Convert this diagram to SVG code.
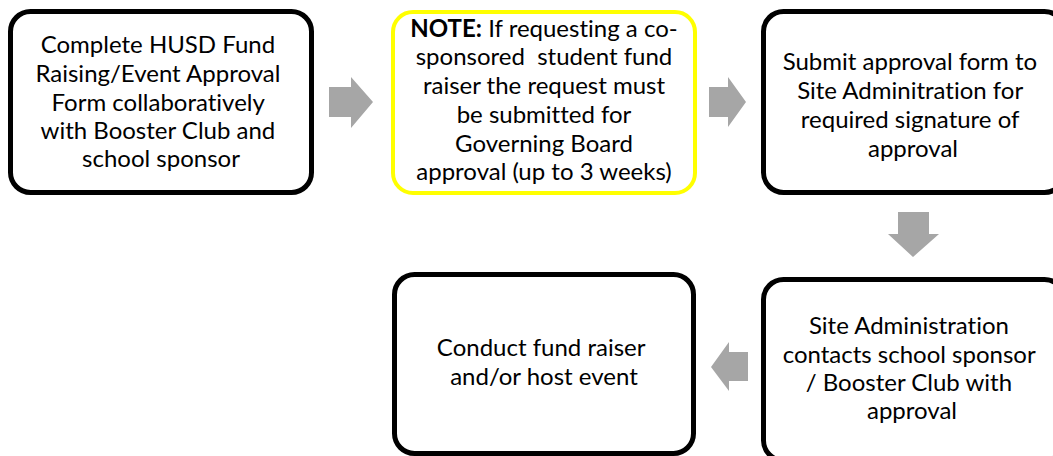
<svg xmlns="http://www.w3.org/2000/svg" width="1053" height="456" viewBox="0 0 1053 456">
  <style>
    .box { fill: #ffffff; stroke: #000000; stroke-width: 5; }
    .note { fill: #ffffff; stroke: #ffff00; stroke-width: 4; }
    .arrow { fill: #a6a6a6; stroke: none; }
    .label { font-family: Lato, "Liberation Sans", sans-serif; font-size: 24px; fill: #000000; text-anchor: middle; font-variant-ligatures: none; }
    .bold { font-weight: bold; }
  </style>
  <rect width="1053" height="456" fill="#ffffff"/>

  <!-- block arrows between steps -->
  <g id="connectors">
    <polygon class="arrow" points="329,87 351,87 351,77 373,102 351,128 351,117 329,117"/>
    <polygon class="arrow" points="709,87 728,87 728,77 746,102 728,127 728,117 709,117"/>
    <polygon class="arrow" points="898,212 929,212 929,234 939,234 913,257 888,234 898,234"/>
    <polygon class="arrow" points="748,352 729,352 729,342 711,367 729,391 729,381 748,381"/>
  </g>

  <g id="step-complete-form">
    <rect class="box" x="10.5" y="11.5" width="301" height="181" rx="20"/>
    <text class="label">
      <tspan x="161" y="53">Complete HUSD Fund</tspan>
      <tspan x="161" y="82">Raising/Event Approval</tspan>
      <tspan x="161" y="111">Form collaboratively</tspan>
      <tspan x="161" y="139">with Booster Club and</tspan>
      <tspan x="161" y="167">school sponsor</tspan>
    </text>
  </g>

  <g id="step-note">
    <rect class="note" x="393" y="12" width="302" height="181" rx="20"/>
    <text class="label" xml:space="preserve"><tspan x="544" y="37"><tspan class="bold">NOTE:</tspan> If requesting a co-</tspan><tspan x="544" y="65">sponsored  student fund</tspan><tspan x="544" y="94">raiser the request must</tspan><tspan x="544" y="123">be submitted for</tspan><tspan x="544" y="152">Governing Board</tspan><tspan x="544" y="180">approval (up to 3 weeks)</tspan></text>
  </g>

  <g id="step-submit">
    <rect class="box" x="763.5" y="11.5" width="301" height="181" rx="20"/>
    <text class="label">
      <tspan x="913" y="70">Submit approval form to</tspan>
      <tspan x="913" y="99">Site Adminitration for</tspan>
      <tspan x="913" y="128">required signature of</tspan>
      <tspan x="913" y="157">approval</tspan>
    </text>
  </g>

  <g id="step-site-admin">
    <rect class="box" x="763.5" y="279.5" width="301" height="181" rx="20"/>
    <text class="label">
      <tspan x="912" y="334">Site Administration</tspan>
      <tspan x="912" y="363">contacts school sponsor</tspan>
      <tspan x="912" y="391">/ Booster Club with</tspan>
      <tspan x="912" y="419">approval</tspan>
    </text>
  </g>

  <g id="step-conduct">
    <rect class="box" x="394.5" y="274.5" width="299" height="179" rx="20"/>
    <text class="label">
      <tspan x="544" y="356">Conduct fund raiser</tspan>
      <tspan x="544" y="385">and/or host event</tspan>
    </text>
  </g>
</svg>
